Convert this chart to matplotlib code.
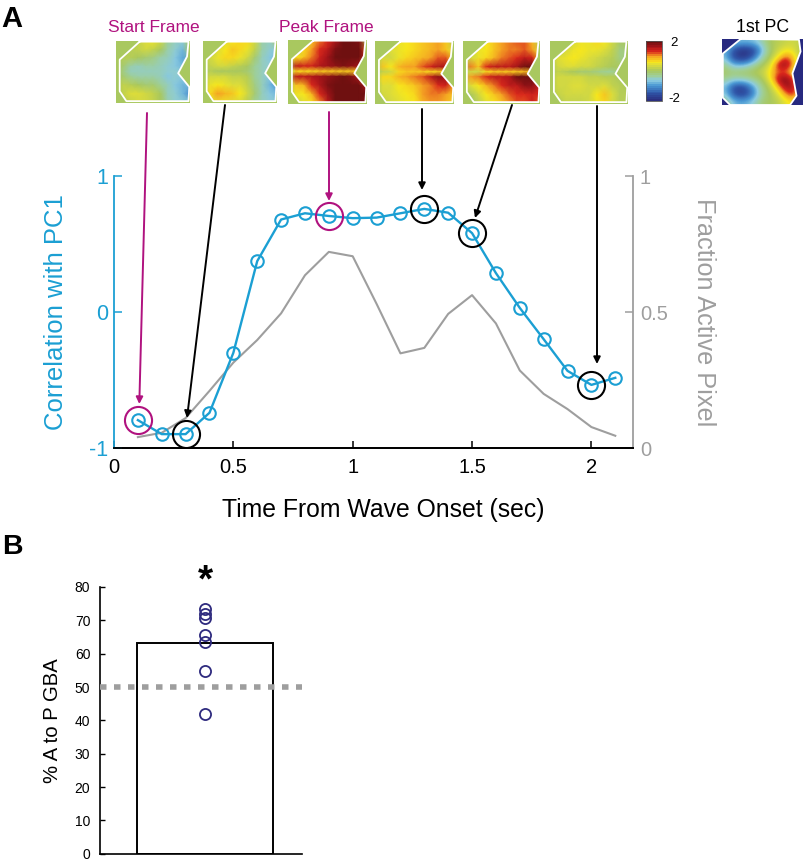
import numpy as np
import matplotlib
matplotlib.use("Agg")
import matplotlib.pyplot as plt
from matplotlib.colors import LinearSegmentedColormap, Normalize
from matplotlib.cm import ScalarMappable
from matplotlib.path import Path
from matplotlib.patches import PathPatch

plt.rcParams["font.family"] = ["Liberation Sans", "DejaVu Sans"]

W, H = 805, 863

# panel A
time_s = [0.1, 0.2, 0.3, 0.4, 0.5, 0.6, 0.7, 0.8, 0.9, 1.0, 1.1,
          1.2, 1.3, 1.4, 1.5, 1.6, 1.7, 1.8, 1.9, 2.0, 2.1]
corr_pc1 = [-0.795, -0.898, -0.898, -0.741, -0.30, 0.374, 0.68, 0.726, 0.706, 0.69, 0.694,
            0.726, 0.758, 0.73, 0.58, 0.286, 0.03, -0.20, -0.433, -0.536, -0.484]
frac_active = [0.04, 0.056, 0.11, 0.21, 0.314, 0.397, 0.495, 0.635, 0.721, 0.705, 0.53,
               0.348, 0.368, 0.493, 0.562, 0.458, 0.285, 0.199, 0.143, 0.077, 0.045]
magenta_idx = [0, 8]
black_idx = [2, 12, 14, 19]

# panel B
bar_value = 63.2
dot_values = [73.5, 72.0, 70.8, 65.5, 63.4, 54.9, 42.0]
chance_level = 50

# heatmap frames, coarse reading of the thumbnails
frame1 = [[0, 0, 0, .2, .4, .5, .3, -.3, -.5, -.6, 0],
          [0, 0, .1, .2, .3, .2, 0, -.4, -.6, -.8, 0],
          [0, .1, .1, 0, -.1, -.2, -.4, -.5, -.7, -.9, -.9],
          [0, -.1, -.4, -.5, -.4, -.4, -.5, -.6, -.7, -.8, -.6],
          [0, -.2, -.5, -.5, -.5, -.5, -.5, -.6, -.6, -.6, -.6],
          [0, -.1, -.3, -.4, -.4, -.4, -.5, -.7, -.6, -.7, -.7],
          [0, .2, .1, 0, -.1, -.1, -.3, -.5, -.7, -.8, -.8],
          [0, .2, .4, .4, .3, .2, 0, -.5, -.6, -.8, -1.1],
          [0, .1, .2, .3, .3, .2, 0, -.4, -.6, -.6, -.6]]
frame2 = [[0, 0, 0, .4, .6, .7, .7, .3, -.4, -.5, 0],
          [0, 0, .4, .6, .8, .7, .5, .2, -.4, -.6, -.7],
          [0, .3, .5, .7, .7, .5, .3, -.1, -.5, -.7, -.8],
          [0, .2, .3, .3, .2, .1, 0, -.3, -.5, -.6, -.6],
          [0, .1, 0, 0, 0, 0, -.1, -.3, -.5, -.6, -.6],
          [0, .3, .3, .3, .2, .2, .1, -.3, -.5, -.7, -.8],
          [0, .5, .6, .5, .4, .4, .2, -.2, -.5, -.8, -1],
          [0, .7, 1, .9, .8, .6, .3, -.1, -.5, -.7, -.8],
          [0, .3, .5, .5, .4, .3, .1, -.3, -.5, -.6, -.6]]
frame3 = [[0, 0, 0, .8, 1.1, 1.3, 1.6, 2, 2, 1.9, 0],
          [0, 0, .7, 1, 1.3, 1.5, 1.9, 2.3, 2.3, 2, 1.2],
          [0, .6, .8, 1.1, 1.4, 1.7, 2, 2.3, 2.3, 2, 1.4],
          [0, 1.5, 1.4, 1.4, 1.6, 1.7, 1.8, 1.9, 1.8, 1.7, 1],
          [0, .7, .7, .7, .8, .8, .8, .8, .8, .7, .4],
          [0, 1.5, 1.5, 1.6, 1.7, 1.8, 1.9, 2, 1.9, 1.6, 1],
          [0, .8, .9, 1.3, 1.6, 1.9, 2.4, 2.4, 2.4, 2.2, 1.6],
          [0, .5, .6, .9, 1.3, 1.7, 2.4, 2.4, 2.4, 2.4, 2],
          [0, .2, .4, .6, 1, 1.5, 2.2, 2.4, 2.4, 2.4, 1.8]]
frame4 = [[0, 0, 0, .5, .6, .7, .8, .9, 1, .8, 0],
          [0, 0, .4, .5, .6, .7, .8, .9, 1, .8, .4],
          [0, .3, .3, .5, .7, .8, .9, 1, 1.2, 1.2, .6],
          [0, .8, .6, .9, 1, 1, 1.2, 1.4, 1.6, 1.6, .8],
          [0, .2, .3, .7, .8, .8, .8, .7, .8, .6, .3],
          [0, .7, .7, .9, 1, 1.1, 1.2, 1.5, 1.8, 1.7, 1],
          [0, .4, .4, .6, .7, .8, 1, 1.1, 1.3, 1.4, 1],
          [0, .3, .4, .5, .6, .7, 1, 1.1, 1.1, 1, .8],
          [0, .2, .3, .4, .5, .6, .9, 1, 1, .9, .7]]
frame5 = [[0, 0, 0, .6, .8, 1, 1.1, 1.2, 1.2, .9, 0],
          [0, 0, .5, .6, .8, 1, 1.1, 1.1, 1.2, 1, .4],
          [0, .3, .5, .7, .9, 1.1, 1.2, 1.3, 1.5, 1.4, .8],
          [0, 1.1, .8, 1.3, 1.5, 1.5, 1.5, 1.7, 2.1, 2, 1],
          [0, .3, .3, .7, .8, .8, .8, .8, .9, .7, .4],
          [0, 1, 1.1, 1.3, 1.5, 1.5, 1.6, 2, 2.3, 2.2, 1.3],
          [0, .4, .6, .9, 1.1, 1.3, 1.5, 1.5, 1.8, 1.8, 1.4],
          [0, 0, .3, .6, .8, 1, 1.2, 1.3, 1.3, 1.4, 1.3],
          [0, -.1, .1, .4, .6, .8, 1, 1.2, 1.2, 1.4, 1.1]]
frame6 = [[0, 0, 0, .3, .5, .5, .7, .6, .3, 0, 0],
          [0, 0, .3, .5, .6, .5, .5, .4, .2, -.2, -.1],
          [0, .4, .5, .6, .5, .4, .3, .2, .1, -.2, -.2],
          [0, .3, .4, .4, .3, .3, .2, .1, 0, 0, 0],
          [0, .2, .1, 0, -.1, -.1, -.2, -.3, -.3, -.1, 0],
          [0, .3, .3, .3, .3, .2, .2, .1, .1, 0, 0],
          [0, .3, .3, .4, .4, .3, .3, .4, .2, .1, 0],
          [0, .2, .3, .3, .3, .3, .6, .8, .4, .1, .1],
          [0, 0, .2, .2, .2, .3, .5, .7, .3, .1, .1]]
pc_frame = [[-.5, -.7, -.8, -.8, -.7, -.4, 0, .1, .2, .3, .2],
            [-.8, -1.5, -1.9, -1.9, -1.6, -.8, -.1, .2, .5, .5, .1],
            [-.8, -1.6, -1.9, -1.8, -1.2, -.4, 0, .5, 1.2, 1.0, .2],
            [-.3, -.8, -.9, -.7, -.3, 0, .3, 1.4, 1.9, 1.2, .2],
            [0, -.1, 0, 0, .1, .2, .7, 1.1, 1.1, .7, .1],
            [-.3, -.5, -.5, -.4, -.2, 0, .5, 1.5, 2.0, 1.5, .4],
            [-.8, -1.5, -1.7, -1.4, -.8, -.2, .1, .8, 1.6, 1.7, .7],
            [-.7, -1.5, -1.8, -1.6, -1, -.3, 0, .3, 1.0, 1.4, .8],
            [-.2, -.7, -.9, -.8, -.5, -.1, 0, .1, .4, .7, .4]]

CYAN = "#1B9FD3"
GRAY = "#9E9E9E"
MAGENTA = "#B0127F"
OLIVE = "#A9C85F"
NAVY = "#27297F"

cmap = LinearSegmentedColormap.from_list("wave", [
    (0.00, "#2B2F7F"), (0.12, "#2F55A8"), (0.25, "#4A98D4"), (0.33, "#8CCBE0"),
    (0.42, "#9FCF9A"), (0.50, OLIVE), (0.60, "#DDDD3A"), (0.65, "#F7E81C"),
    (0.75, "#F5A623"), (0.83, "#D9261C"), (0.92, "#A5141A"), (1.00, "#6F1010")])
norm = Normalize(-2, 2)

frame_outline = [(.32, .01), (.05, .30), (.05, .81), (.14, .97), (.98, .97),
                 (.99, .74), (.84, .52), (.96, .25), (.98, .01)]
pc_outline = [(.23, .0), (.01, .22), (.01, .89), (.10, 1.0), (.84, 1.0),
              (.92, .86), (.87, .52), (.97, .19), (.95, .01)]
# frames have a thin midline, so the rows bunch up around it
frame_rows = [0, .14, .27, .41, .49, .57, .71, .85, 1]


def px_axes(fig, x0, y0, x1, y1):
    return fig.add_axes([x0 / W, 1 - y1 / H, (x1 - x0) / W, (y1 - y0) / H])


def fx(x, y):
    return (x / W, 1 - y / H)


def draw_frame(fig, grid, box, rows=frame_rows, outline=frame_outline, outside=OLIVE):
    ax = px_axes(fig, *box)
    if rows is None:
        ax.imshow(grid, cmap=cmap, norm=norm, interpolation="bicubic", aspect="auto",
                  extent=(0, 1, 1, 0))
    else:
        cols = np.linspace(0, 1, len(grid[0]))
        ax.pcolormesh(cols, rows, grid, cmap=cmap, norm=norm, shading="gouraud")
    # mask outside of the brain outline
    rect = [(0, 0), (1, 0), (1, 1), (0, 1), (0, 0)]
    verts = rect + outline + [outline[0]]
    codes = ([Path.MOVETO] + [Path.LINETO] * 3 + [Path.CLOSEPOLY]
             + [Path.MOVETO] + [Path.LINETO] * (len(outline) - 1) + [Path.CLOSEPOLY])
    ax.add_patch(PathPatch(Path(verts, codes), facecolor=outside, edgecolor="none"))
    ox, oy = zip(*(outline + [outline[0]]))
    ax.plot(ox, oy, color="white", lw=1.3)
    ax.set_xlim(0, 1)
    ax.set_ylim(1, 0)
    ax.axis("off")


def arrow(fig, start, tip, color):
    fig.add_artist(matplotlib.text.Annotation(
        "", xy=fx(*tip), xytext=fx(*start), xycoords="figure fraction",
        textcoords="figure fraction",
        arrowprops=dict(arrowstyle="-|>", color=color, lw=1.4, mutation_scale=10,
                        shrinkA=0, shrinkB=0)))


fig = plt.figure(figsize=(W / 100, H / 100), dpi=100)

# panel A, main axes
ax = px_axes(fig, 114, 176, 633, 448)
ax.set_xlim(0, 519 / 238.7)
ax.set_ylim(-1, 1)
ax2 = ax.twinx()
ax2.set_ylim(0, 1)
ax2.plot(time_s, frac_active, color=GRAY, lw=1.5, zorder=1)
ax.set_zorder(ax2.get_zorder() + 1)
ax.patch.set_visible(False)

ax.plot(time_s, corr_pc1, "-o", color=CYAN, lw=1.7, ms=9, mfc="none", mew=1.5)
ax.plot([time_s[i] for i in magenta_idx], [corr_pc1[i] for i in magenta_idx], "o",
        ms=19.5, mfc="none", mec=MAGENTA, mew=1.5)
ax.plot([time_s[i] for i in black_idx], [corr_pc1[i] for i in black_idx], "o",
        ms=19.5, mfc="none", mec="black", mew=1.5)

ax.set_xticks([0, 0.5, 1, 1.5, 2])
ax.set_xticklabels(["0", "0.5", "1", "1.5", "2"], fontsize=14.5)
ax.set_yticks([-1, 0, 1])
ax.set_yticklabels(["-1", "0", "1"], fontsize=15.5, color=CYAN)
ax2.set_yticks([0, 0.5, 1])
ax2.set_yticklabels(["0", "0.5", "1"], fontsize=14.5, color=GRAY)
ax.tick_params(axis="x", direction="in", length=5, width=1.1, pad=7)
ax.tick_params(axis="y", direction="in", length=6, width=1.1, color=CYAN, pad=4)
ax2.tick_params(axis="y", direction="in", length=6, width=1.1, color=GRAY, pad=5)
ax.set_xlabel("Time From Wave Onset (sec)", fontsize=17.8, labelpad=15, x=0.518)
ax.set_ylabel("Correlation with PC1", fontsize=18.5, color=CYAN, labelpad=15)
ax2.set_ylabel("Fraction Active Pixel", fontsize=18.2, color=GRAY, rotation=270, labelpad=35)
for a in (ax, ax2):
    a.spines["top"].set_visible(False)
    a.spines["left"].set_visible(False)
    a.spines["right"].set_visible(False)
    a.spines["bottom"].set_linewidth(1.3)
ax.spines["left"].set_visible(True)
ax.spines["left"].set_color(CYAN)
ax.spines["left"].set_linewidth(1.3)
ax2.spines["right"].set_visible(True)
ax2.spines["right"].set_color(GRAY)
ax2.spines["right"].set_linewidth(1.3)

# thumbnails
draw_frame(fig, frame1, (116, 41, 190, 103))
draw_frame(fig, frame2, (203, 41, 277, 103))
draw_frame(fig, frame3, (288, 40, 367, 104))
draw_frame(fig, frame4, (375, 41, 454, 104))
draw_frame(fig, frame5, (463, 41, 540, 104))
draw_frame(fig, frame6, (550, 41, 628, 104))
draw_frame(fig, pc_frame, (722, 39, 803, 105), rows=None, outline=pc_outline, outside=NAVY)

# colorbar
cax = px_axes(fig, 646, 41, 662, 101)
cb_cmap = cmap.resampled(32)
cb = fig.colorbar(ScalarMappable(norm=norm, cmap=cb_cmap), cax=cax)
cb.set_ticks([])
cb.outline.set_edgecolor("#555555")
cb.outline.set_linewidth(0.6)
fig.text(*fx(674, 43), "2", fontsize=9.5, ha="center", va="center")
fig.text(*fx(674, 99), "-2", fontsize=9.5, ha="center", va="center")

fig.text(*fx(154, 27), "Start Frame", fontsize=12.5, color=MAGENTA, ha="center", va="center")
fig.text(*fx(326, 27), "Peak Frame", fontsize=12.5, color=MAGENTA, ha="center", va="center")
fig.text(*fx(763, 27), "1st PC", fontsize=12.8, ha="center", va="center")
fig.text(*fx(1, 19), "A", fontsize=21, fontweight="bold", va="center")
fig.text(*fx(2, 547), "B", fontsize=20.5, fontweight="bold", va="center")

arrow(fig, (147, 113), (139.3, 404), MAGENTA)
arrow(fig, (225, 105), (187, 418), "black")
arrow(fig, (329, 112), (329, 201), MAGENTA)
arrow(fig, (422, 109), (422, 190), "black")
arrow(fig, (512, 105), (475, 218), "black")
arrow(fig, (597, 106), (597, 364), "black")

# panel B
axb = px_axes(fig, 100, 587, 302, 853.7)
axb.set_xlim(100, 302)
axb.set_ylim(0, 80)
axb.bar([205.3], [bar_value], width=136, facecolor="white", edgecolor="black", linewidth=1.4)
axb.axhline(chance_level, color=GRAY, lw=4, dashes=(1.17, 1.35), zorder=3)
axb.plot([205] * len(dot_values), dot_values, "o", ms=8, mfc="none", mec="#2E2A7E", mew=1.3,
         zorder=4, clip_on=False)
axb.set_xticks([])
axb.set_yticks(np.arange(0, 81, 10))
axb.tick_params(axis="y", direction="in", length=3.5, width=1.0, labelsize=10, pad=7)
axb.set_ylabel("% A to P GBA", fontsize=14.6, labelpad=9)
axb.spines["top"].set_visible(False)
axb.spines["right"].set_visible(False)
axb.spines["left"].set_linewidth(1.2)
axb.spines["bottom"].set_linewidth(1.2)
fig.text(*fx(205, 581), "*", fontsize=28, fontweight="bold", ha="center", va="center")

fig.savefig("out.png", dpi=100)
